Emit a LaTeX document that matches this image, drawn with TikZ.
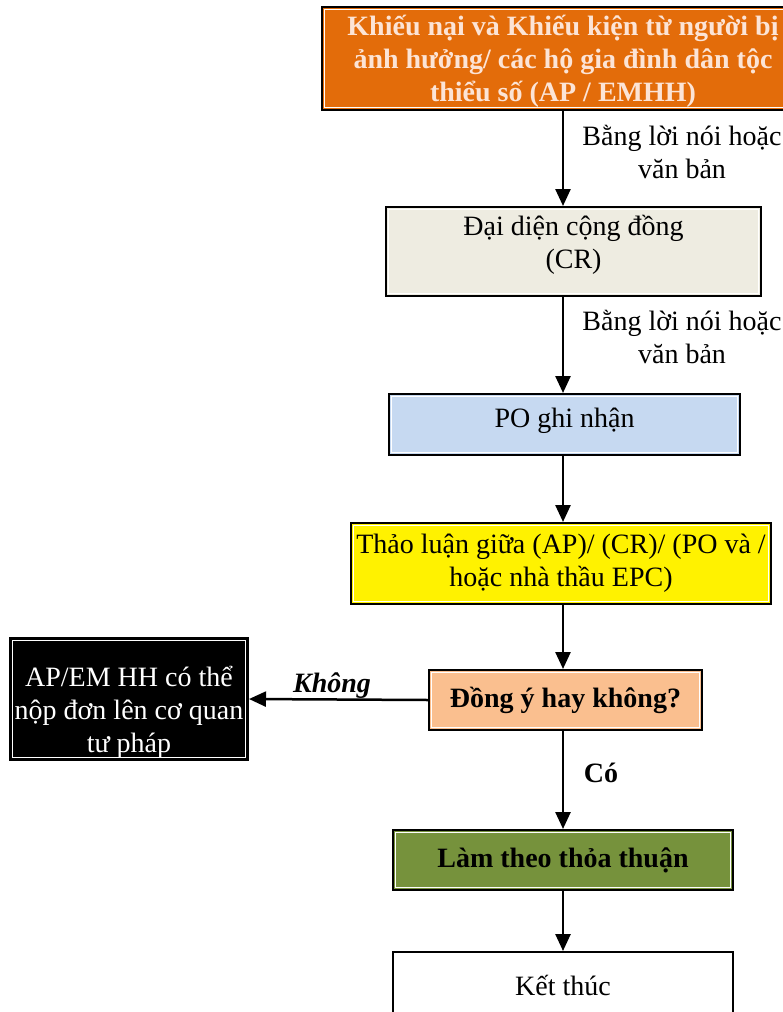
\documentclass[tikz,border=0pt]{standalone}
\usepackage{fontspec}
\setmainfont{Liberation Serif}
\usepackage{xcolor}
\usetikzlibrary{arrows.meta, positioning}

\definecolor{apOrange}{HTML}{E36C0A}
\definecolor{apText}{HTML}{FCE4D6}
\definecolor{crGrey}{HTML}{EEECE1}
\definecolor{poBlue}{HTML}{C6D9F1}
\definecolor{okPeach}{HTML}{FABF8F}
\definecolor{doGreen}{HTML}{76923C}

\newcommand{\bigfont}{\fontsize{28}{33}\selectfont}

\tikzset{
  box/.style={draw=black, line width=2pt, align=center, inner sep=2pt, font=\bigfont,
    path picture={\draw[white, line width=1.2pt]
      ([xshift=2.2pt,yshift=-2.2pt]path picture bounding box.north west) rectangle
      ([xshift=-2.2pt,yshift=2.2pt]path picture bounding box.south east);}},
  boldbox/.style={box, font=\bigfont\bfseries},
  flow/.style={-{Triangle[length=17pt,width=15pt]}, line width=2.5pt},
  lbl/.style={align=center, font=\bigfont},
}

\begin{document}
\begin{tikzpicture}[x=1pt, y=-1pt]
  \useasboundingbox (0,0) rectangle (782,1012);
  \coordinate (axis) at (563,0);

  % Cac buoc chinh
  \node[boldbox, fill=apOrange, text=apText, text depth=0pt, minimum width=482pt, minimum height=103pt] (ap) at (563,58.5)
    {Khiếu nại và Khiếu kiện từ người bị\\ảnh hưởng/ các hộ gia đình dân tộc\\thiểu số (AP / EMHH)};
  \node[box, fill=crGrey, text depth=20pt, minimum width=375pt, minimum height=89pt] (cr) at (573.5,251.5)
    {Đại diện cộng đồng\\(CR)};
  \node[box, fill=poBlue, text depth=14pt, minimum width=351pt, minimum height=61pt] (po) at (564.5,424.5) {PO ghi nhận};
  \node[box, fill=yellow, minimum width=420pt, minimum height=81pt] (talk) at (561,563.5)
    {Thảo luận giữa (AP)/ (CR)/ (PO và /\\hoặc nhà thầu EPC)};
  \node[boldbox, fill=okPeach, minimum width=273pt, minimum height=60pt] (agree) at (565.5,700) {Đồng ý hay không?};
  \node[box, fill=black, text=white, text depth=0pt, minimum width=238pt, minimum height=122pt] (court) at (129,699)
    {\rule{0pt}{40pt}AP/EM HH có thể\\nộp đơn lên cơ quan\\tư pháp};
  \node[boldbox, fill=doGreen, minimum width=340pt, minimum height=60pt] (deal) at (563,860) {Làm theo thỏa thuận};
  \node[box, fill=white, minimum width=340pt, minimum height=66pt] (end) at (563,985) {Kết thúc};

  % Nhan
  \node[lbl] (lbA) at (682,152) {Bằng lời nói hoặc\\văn bản};
  \node[lbl] (lbB) at (682,337) {Bằng lời nói hoặc\\văn bản};
  \node[lbl, font=\bigfont\bfseries\itshape] (no) at (332,686) {Không};
  \node[lbl, font=\bigfont\bfseries] (yes) at (601,773) {Có};

  % Mui ten
  \draw[flow] (ap.south -| axis) -- (cr.north -| axis);
  \draw[flow] (cr.south -| axis) -- (po.north -| axis);
  \draw[flow] (po.south -| axis) -- (talk.north -| axis);
  \draw[flow] (talk.south -| axis) -- (agree.north -| axis);
  \draw[flow] (agree.west) -- (court.east);
  \draw[flow] (agree.south -| axis) -- (deal.north -| axis);
  \draw[flow] (deal.south -| axis) -- (end.north -| axis);
\end{tikzpicture}
\end{document}
